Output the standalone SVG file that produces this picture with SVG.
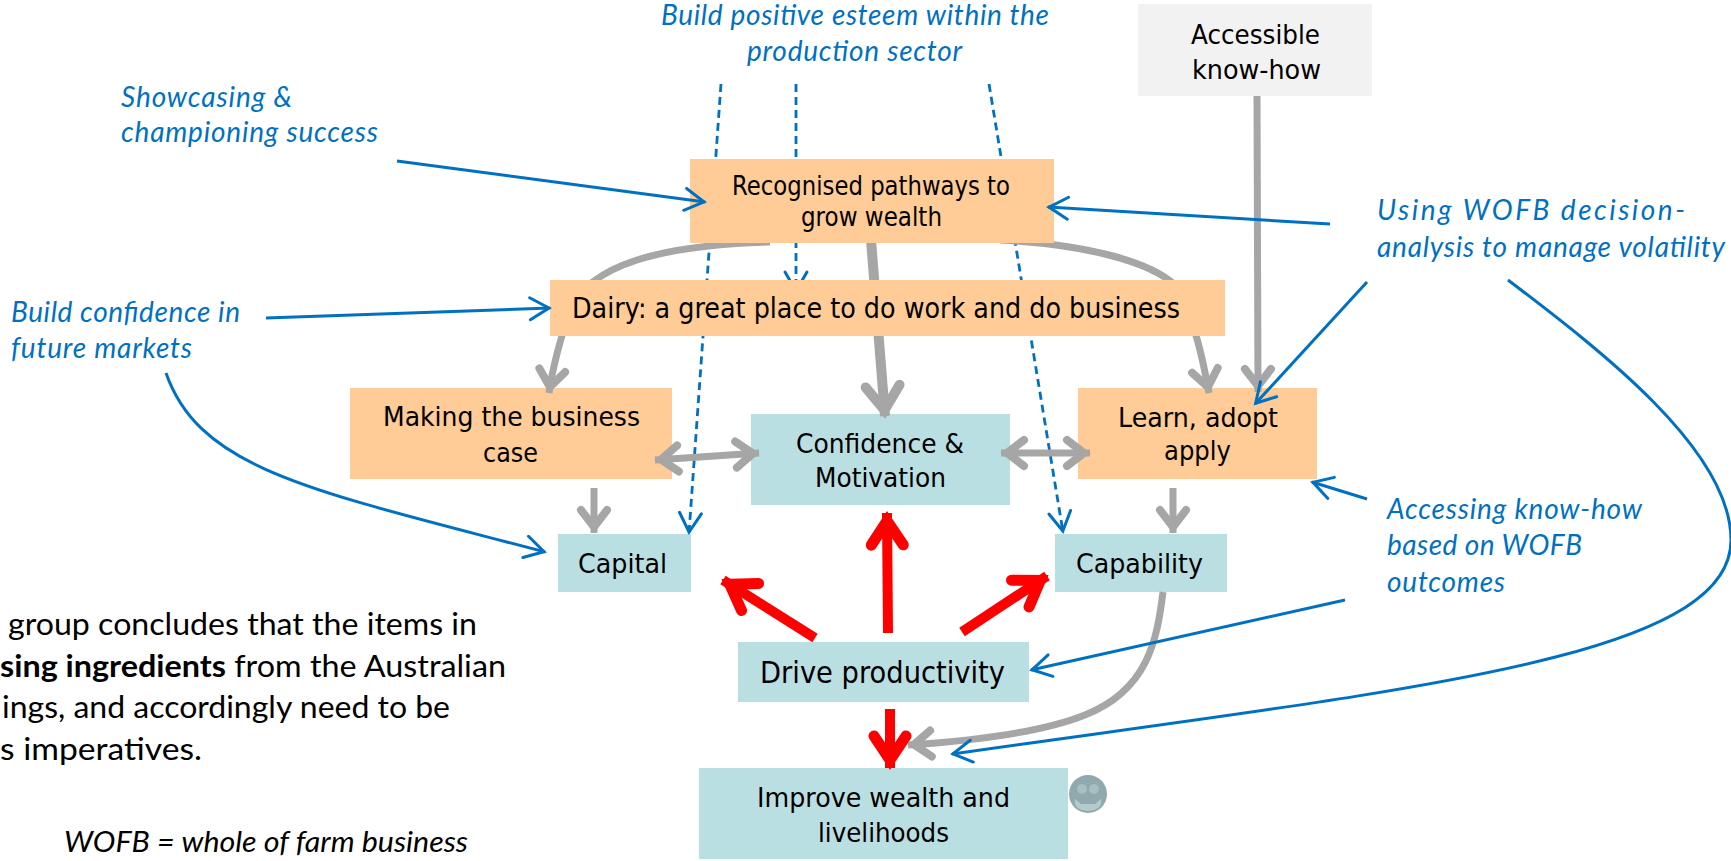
<svg xmlns="http://www.w3.org/2000/svg" width="1731" height="861" viewBox="0 0 1731 861">
<style>
text{font-family:"DejaVu Sans","Liberation Sans",sans-serif;fill:#000;font-size:27px}
.blue{font-family:"Lato","Open Sans",sans-serif;font-style:italic;fill:#0070C0;font-size:28px}
.note{font-family:"Lato","Open Sans",sans-serif;fill:#000;font-size:30px}
.it{font-style:italic;font-size:29px}
.or{fill:#FFCB96}.te{fill:#B9DFE3}.ac{fill:#F2F2F2}
.g{fill:none;stroke:#A6A6A6;stroke-width:7;marker-end:url(#mg)}
.g2{stroke-width:10;marker-end:url(#mg2)}
.gd{marker-start:url(#mgs)}
.r{fill:none;stroke:#F00;stroke-width:10;marker-end:url(#mr)}
.b{fill:none;stroke:#0070C0;stroke-width:3;marker-end:url(#mb)}
.d{fill:none;stroke:#0070C0;stroke-width:2.8;stroke-dasharray:8 5;marker-end:url(#mb)}
</style>
<defs>
<marker id="mg" markerUnits="userSpaceOnUse" markerWidth="40" markerHeight="40" viewBox="-30 -20 40 40" refX="0" refY="0" orient="auto"><path d="M-23-13L-6 0L-23 13" fill="none" stroke="#A6A6A6" stroke-width="8" stroke-linecap="round"/></marker>
<marker id="mg2" markerUnits="userSpaceOnUse" markerWidth="60" markerHeight="60" viewBox="-45 -30 60 60" refX="0" refY="0" orient="auto"><path d="M-30-17L-6 0L-30 17" fill="none" stroke="#A6A6A6" stroke-width="10" stroke-linecap="round"/></marker>
<marker id="mgs" markerUnits="userSpaceOnUse" markerWidth="40" markerHeight="40" viewBox="-30 -20 40 40" refX="0" refY="0" orient="auto-start-reverse"><path d="M-23-13L-6 0L-23 13" fill="none" stroke="#A6A6A6" stroke-width="8" stroke-linecap="round"/></marker>
<marker id="mr" markerUnits="userSpaceOnUse" markerWidth="60" markerHeight="60" viewBox="-45 -30 60 60" refX="0" refY="0" orient="auto"><path d="M-32-16L-8 0L-32 16" fill="none" stroke="#F00" stroke-width="11" stroke-linecap="round"/></marker>
<marker id="mb" markerUnits="userSpaceOnUse" markerWidth="40" markerHeight="40" viewBox="-30 -20 40 40" refX="0" refY="0" orient="auto"><path d="M-20-11L-1 0L-20 11" fill="none" stroke="#0070C0" stroke-width="3" stroke-linecap="round"/></marker>
</defs>

<g id="node-making"><rect class="or" x="350" y="388" width="322" height="91"/><text x="383" y="426" textLength="257" lengthAdjust="spacingAndGlyphs">Making the business</text><text x="483" y="462" textLength="55" lengthAdjust="spacingAndGlyphs">case</text></g>
<g id="node-learn"><rect class="or" x="1078" y="388" width="239" height="91"/><text x="1118" y="427" textLength="160" lengthAdjust="spacingAndGlyphs">Learn, adopt</text><text x="1164" y="460" textLength="67" lengthAdjust="spacingAndGlyphs">apply</text></g>
<g id="node-confidence"><rect class="te" x="751" y="414" width="259" height="91"/><text x="796" y="453" textLength="168" lengthAdjust="spacingAndGlyphs">Confidence &amp;</text><text x="815" y="487" textLength="131" lengthAdjust="spacingAndGlyphs">Motivation</text></g>
<g id="node-capital"><rect class="te" x="558" y="534" width="133" height="58"/><text x="578" y="573" textLength="89" lengthAdjust="spacingAndGlyphs">Capital</text></g>
<g id="node-capability"><rect class="te" x="1055" y="534" width="172" height="58"/><text x="1076" y="573" textLength="127" lengthAdjust="spacingAndGlyphs">Capability</text></g>
<g id="node-drive"><rect class="te" x="738" y="642" width="291" height="60"/><text x="760" y="683" style="font-size:31px" textLength="245" lengthAdjust="spacingAndGlyphs">Drive productivity</text></g>
<g id="node-improve"><rect class="te" x="699" y="768" width="369" height="91"/><text x="757" y="807" textLength="253" lengthAdjust="spacingAndGlyphs">Improve wealth and</text><text x="818" y="842" textLength="131" lengthAdjust="spacingAndGlyphs">livelihoods</text></g>
<g id="node-accessible"><rect class="ac" x="1138" y="4" width="234" height="92"/><text x="1191" y="44" textLength="129" lengthAdjust="spacingAndGlyphs">Accessible</text><text x="1192" y="79" textLength="129" lengthAdjust="spacingAndGlyphs">know-how</text></g>

<g id="connectors-under">
<path class="d" d="M721 84L689 533"/>
<path class="d" d="M796 84L796 292"/>
<path class="d" d="M989 84L1063 532"/>
<path class="g" d="M770 242C660 245 590 265 570 310C560 340 553 365 549 393"/>
<path class="g" d="M1000 240C1090 245 1150 262 1175 285C1195 320 1203 360 1209 393"/>
<path class="g g2" d="M871 240L885 416"/>
<path class="g" d="M1257 96L1258 392"/>
<path class="g gd" d="M655 460L759 453"/>
<path class="g gd" d="M1001 453L1090 453"/>
<path class="g" d="M594 488L594 533"/>
<path class="g" d="M1173 488L1173 533"/>
<path class="g" d="M1163 592C1157 640 1148 690 1085 715C1040 733 970 741 908 745"/>
<path class="r" d="M890 709L890 768"/>
<path class="r" d="M888 633L887 513"/>
<path class="r" d="M815 638L723 580"/>
<path class="r" d="M962 632L1047 576"/>
</g>

<g id="node-recognised"><rect class="or" x="690" y="159" width="364" height="84"/><text x="732" y="195" style="font-size:26px" textLength="278" lengthAdjust="spacingAndGlyphs">Recognised pathways to</text><text x="801" y="226" style="font-size:26px" textLength="141" lengthAdjust="spacingAndGlyphs">grow wealth</text></g>
<g id="node-dairy"><rect class="or" x="550" y="280" width="675" height="56"/><text x="572" y="318" style="font-size:28px" textLength="608" lengthAdjust="spacingAndGlyphs">Dairy: a great place to do work and do business</text></g>

<g id="connectors-over">
<path class="b" d="M397 161L705 202"/>
<path class="b" d="M266 318L550 308"/>
<path class="b" d="M166 373C200 470 310 490 545 552"/>
<path class="b" d="M1330 224L1048 207"/>
<path class="b" d="M1367 282L1255 404"/>
<path class="b" d="M1367 499L1312 482"/>
<path class="b" d="M1345 600L1031 670"/>
<path class="b" d="M1508 280C1600 350 1731 450 1731 540C1731 660 1400 690 952 754"/>
</g>

<g id="smiley"><circle cx="1088" cy="794" r="19" fill="#8FA9AD"/><circle cx="1082" cy="789" r="5" fill="#A9BEC1"/><circle cx="1094" cy="789" r="5" fill="#A9BEC1"/><path d="M1075 799L1081 804L1095 804L1101 799Q1103 810 1088 811Q1073 810 1075 799Z" fill="#B4CACD"/></g>

<g id="labels">
<text class="blue" x="661" y="25" textLength="388" lengthAdjust="spacing">Build positive esteem within the</text>
<text class="blue" x="747" y="61" textLength="215" lengthAdjust="spacing">production sector</text>
<text class="blue" x="121" y="107" textLength="171" lengthAdjust="spacing">Showcasing &amp;</text>
<text class="blue" x="121" y="142" textLength="257" lengthAdjust="spacing">championing success</text>
<text class="blue" x="11" y="322" textLength="229" lengthAdjust="spacing">Build confidence in</text>
<text class="blue" x="11" y="358" textLength="181" lengthAdjust="spacing">future markets</text>
<text class="blue" x="1377" y="220" textLength="308" lengthAdjust="spacing">Using WOFB decision-</text>
<text class="blue" x="1377" y="257" textLength="348" lengthAdjust="spacing">analysis to manage volatility</text>
<text class="blue" x="1387" y="519" textLength="255" lengthAdjust="spacing">Accessing know-how</text>
<text class="blue" x="1387" y="555" textLength="195" lengthAdjust="spacing">based on WOFB</text>
<text class="blue" x="1387" y="592" textLength="118" lengthAdjust="spacing">outcomes</text>
<text class="note" x="8" y="635" textLength="469" lengthAdjust="spacingAndGlyphs">group concludes that the items in</text>
<text class="note" x="0" y="677" textLength="506" lengthAdjust="spacingAndGlyphs"><tspan font-weight="700">sing ingredients</tspan> from the Australian</text>
<text class="note" x="2" y="718" textLength="448" lengthAdjust="spacingAndGlyphs">ings, and accordingly need to be</text>
<text class="note" x="0" y="760" textLength="202" lengthAdjust="spacingAndGlyphs">s imperatives.</text>
<text class="note it" x="64" y="852" textLength="404" lengthAdjust="spacingAndGlyphs">WOFB = whole of farm business</text>
</g>
</svg>
